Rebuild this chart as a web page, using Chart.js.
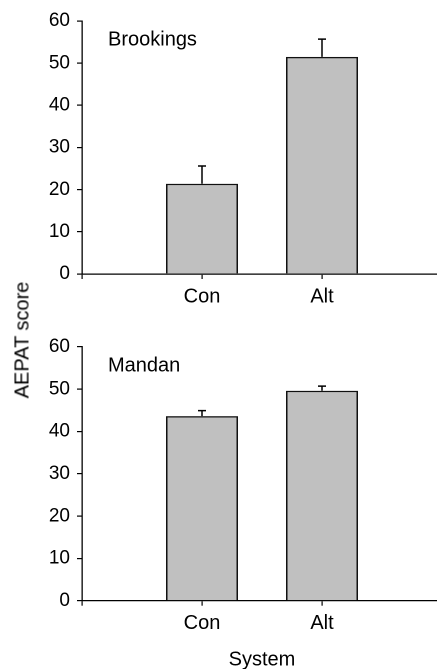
<!DOCTYPE html>
<html>
<head>
<meta charset="utf-8">
<script src="https://cdn.jsdelivr.net/npm/chart.js@4/dist/chart.umd.min.js"></script>
<style>
  html, body { margin: 0; padding: 0; background: #fff; overflow: hidden; width: 437px; height: 669px; }
  #figure { position: absolute; left: 0; top: 0; width: 442px; height: 672px; }
  .panel { position: absolute; left: 0; width: 442px; }
  #top { top: 0; height: 310px; }
  #bottom { top: 310px; height: 362px; }
  #ytitle { position: absolute; left: 22px; top: 340px; transform: translate(-50%, -50%) rotate(-90deg);
            font: 20px 'Liberation Sans', Arial, Helvetica, sans-serif; color: #000; white-space: nowrap; }
</style>
</head>
<body>
<div id="figure">
  <div class="panel" id="top"><canvas id="c1"></canvas></div>
  <div class="panel" id="bottom"><canvas id="c2"></canvas></div>
  <div id="ytitle">AEPAT score</div>
</div>
<script>
// Sites and farming systems
const sites = ['Brookings', 'Mandan'];
const systems = ['Con', 'Alt'];

// Mean AEPAT score and standard error per system
const brookingsMean = [21.4, 51.5];
const brookingsSE = [4.2, 4.2];
const mandanMean = [43.6, 49.6];
const mandanSE = [1.3, 1.1];

// Score axis ticks
const scoreTicks = [0, 10, 20, 30, 40, 50, 60];

const FONT = { family: "'Liberation Sans', Arial, Helvetica, sans-serif", size: 20 };
const TICK_FONT = { family: FONT.family, size: 19 };

// Upward-only error bars with a small cap
const errorBars = {
  id: 'errorBars',
  afterDatasetsDraw(chart, args, opts) {
    const meta = chart.getDatasetMeta(0);
    const ys = chart.scales.y;
    const ctx = chart.ctx;
    ctx.save();
    ctx.strokeStyle = '#000';
    ctx.lineWidth = opts.lineWidth;
    meta.data.forEach((bar, i) => {
      const v = chart.data.datasets[0].data[i].y;
      const top = ys.getPixelForValue(v + opts.errors[i]);
      ctx.beginPath();
      ctx.moveTo(bar.x, bar.y);
      ctx.lineTo(bar.x, top);
      ctx.moveTo(bar.x - opts.cap, top);
      ctx.lineTo(bar.x + opts.cap, top);
      ctx.stroke();
    });
    ctx.restore();
  }
};

// Site name written inside the plot area
const panelLabel = {
  id: 'panelLabel',
  afterDraw(chart, args, opts) {
    const ctx = chart.ctx;
    ctx.save();
    ctx.font = `${FONT.size}px ${FONT.family}`;
    ctx.fillStyle = '#000';
    ctx.textAlign = 'left';
    ctx.textBaseline = 'alphabetic';
    ctx.fillText(opts.text, chart.chartArea.left + opts.dx, chart.scales.y.getPixelForValue(opts.at));
    ctx.restore();
  }
};

function makePanel(canvasId, site, means, ses, padTop, axisHeight, showTitle) {
  return new Chart(document.getElementById(canvasId), {
    type: 'bar',
    data: {
      datasets: [{
        data: means.map((m, i) => ({ x: i + 1, y: m })),
        backgroundColor: '#c0c0c0',
        borderColor: '#111',
        borderWidth: 1.5,
        borderSkipped: 'start',
        barPercentage: 0.6,
        categoryPercentage: 1
      }]
    },
    options: {
      responsive: true,
      maintainAspectRatio: false,
      animation: false,
      devicePixelRatio: 2,
      layout: { padding: { top: padTop, left: 0, right: 0, bottom: 0 } },
      plugins: {
        legend: { display: false },
        tooltip: { enabled: false },
        errorBars: { errors: ses, cap: 4, lineWidth: 1.5 },
        panelLabel: { text: site, dx: 26, at: 54.2 }
      },
      scales: {
        x: {
          type: 'linear',
          min: 0,
          max: 3,
          offset: false,
          afterBuildTicks: s => { s.ticks = [0, 1, 2].map(v => ({ value: v })); },
          afterFit: s => { s.height = axisHeight; },
          ticks: {
            callback: v => systems[v - 1] || '',
            font: FONT, color: '#000', padding: 6, maxRotation: 0, autoSkip: false
          },
          grid: { display: true, offset: false, drawOnChartArea: false, drawTicks: true, tickLength: 5, color: '#000', lineWidth: 1.2 },
          border: { display: true, color: '#000', width: 1.3 },
          title: { display: showTitle, text: 'System', font: FONT, color: '#000', padding: { top: 0, bottom: 0 } }
        },
        y: {
          min: scoreTicks[0],
          max: scoreTicks[scoreTicks.length - 1],
          afterBuildTicks: s => { s.ticks = scoreTicks.map(v => ({ value: v })); },
          afterFit: s => { s.width = 82; },
          ticks: { font: TICK_FONT, color: '#000', padding: 7 },
          grid: { display: true, drawOnChartArea: false, drawTicks: true, tickLength: 5, color: '#000', lineWidth: 1.2 },
          border: { display: true, color: '#000', width: 1.3 }
        }
      }
    },
    plugins: [errorBars, panelLabel]
  });
}

makePanel('c1', sites[0], brookingsMean, brookingsSE, 21, 36, false);
makePanel('c2', sites[1], mandanMean, mandanSE, 36.7, 71.3, true);
</script>
</body>
</html>
